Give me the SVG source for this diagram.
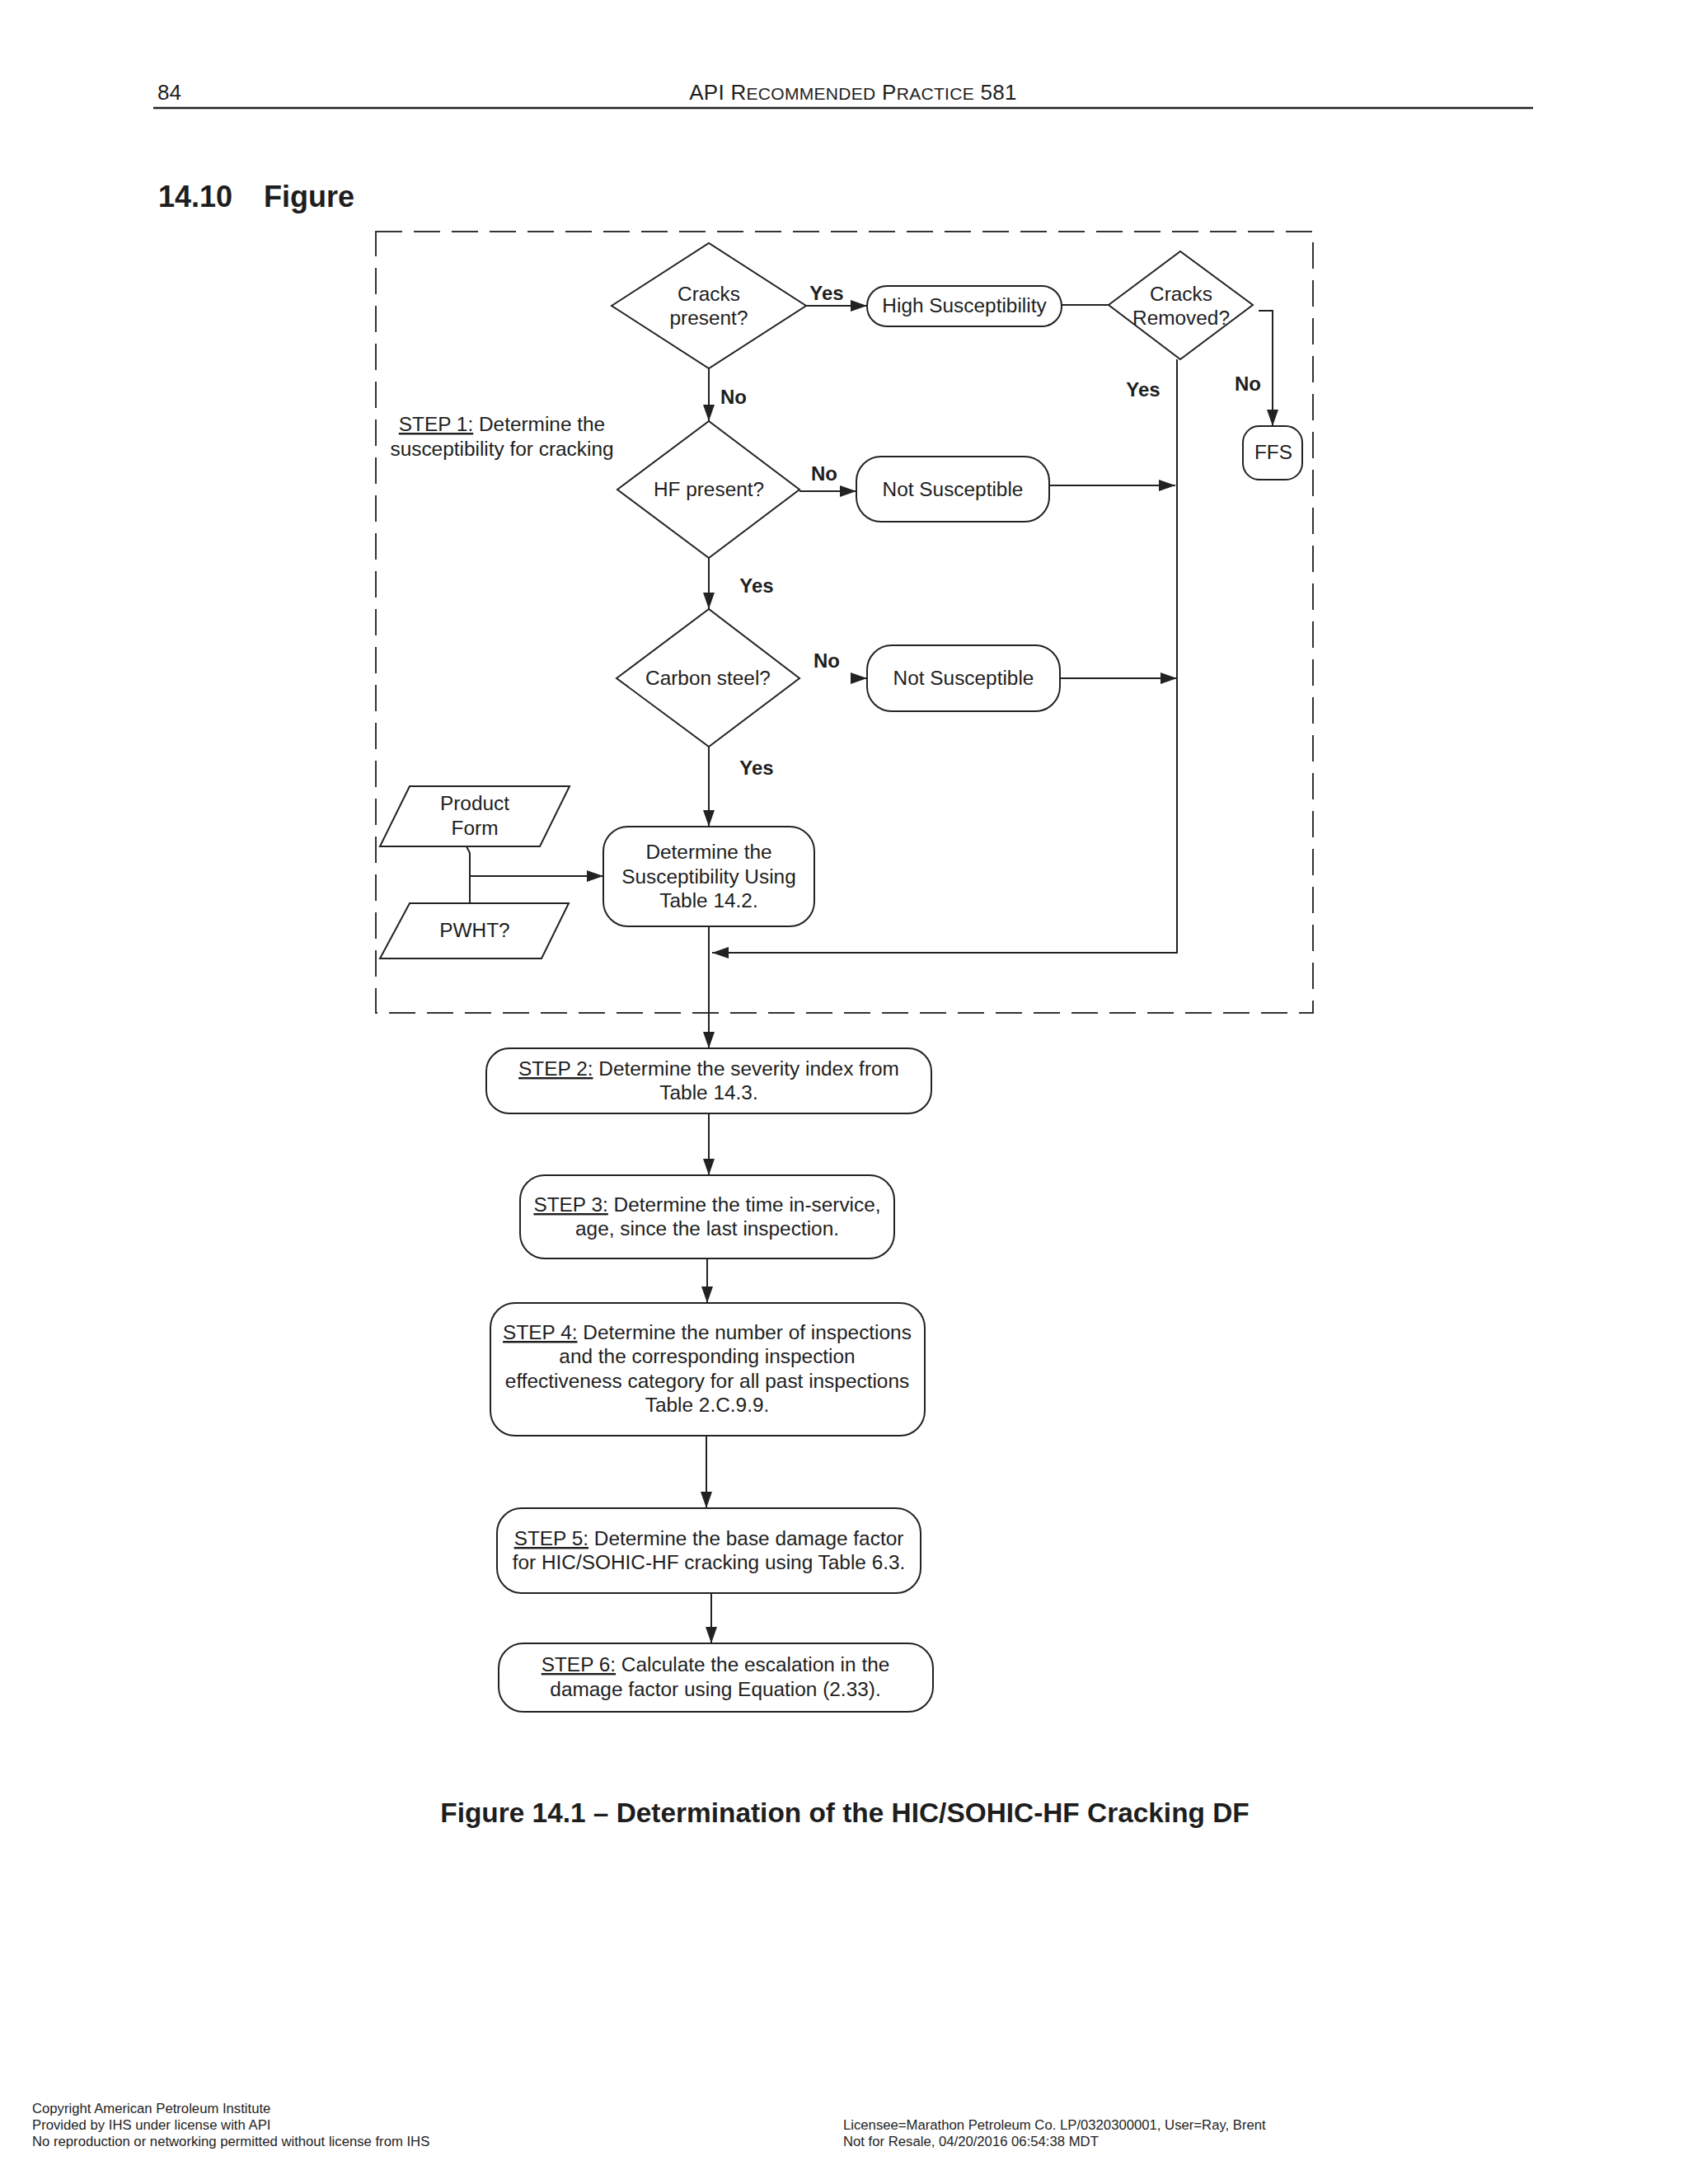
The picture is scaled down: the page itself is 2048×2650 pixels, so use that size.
<svg xmlns="http://www.w3.org/2000/svg" width="2048" height="2650" viewBox="0 0 2048 2650">
<style>
.t{font-family:"Liberation Sans",Arial,sans-serif;font-size:24.4px;fill:#1e1e1e}
.c{text-anchor:middle}
.b{font-weight:bold;font-size:24px}
.u{text-decoration:underline}
.shape{fill:#fff;stroke:#222;stroke-width:2}
.conn{fill:none;stroke:#222;stroke-width:2}
.hdr{font-family:"Liberation Sans",Arial,sans-serif;fill:#1e1e1e}
.foot{font-family:"Liberation Sans",Arial,sans-serif;font-size:16.7px;fill:#1e1e1e}
</style>
<defs>
<marker id="arr" viewBox="0 0 20 14" refX="20" refY="7" markerWidth="20" markerHeight="14" markerUnits="userSpaceOnUse" orient="auto">
<path d="M0,0 L20,7 L0,14 z" fill="#222"/>
</marker>
</defs>
<rect width="2048" height="2650" fill="#fff"/>

<g id="header">
<text class="hdr" x="191" y="121" font-size="26">84</text>
<text class="hdr" x="1035" y="121" font-size="26" text-anchor="middle" letter-spacing="0.3">API R<tspan font-size="21">ECOMMENDED</tspan> P<tspan font-size="21">RACTICE</tspan> 581</text>
<line x1="186" y1="131" x2="1860" y2="131" stroke="#222" stroke-width="2.5"/>
<text class="hdr" x="192" y="251" font-size="36" font-weight="bold">14.10</text>
<text class="hdr" x="320" y="251" font-size="36" font-weight="bold">Figure</text>
</g>

<g id="step1-boundary">
<rect x="456" y="281" width="1137" height="948" fill="none" stroke="#333" stroke-width="2" stroke-dasharray="32 14"/>
<text class="t c" x="609" y="523"><tspan class="u">STEP 1:</tspan> Determine the</text>
<text class="t c" x="609" y="553">susceptibility for cracking</text>
</g>

<g id="connectors">
<path class="conn" d="M978,371 H1052" marker-end="url(#arr)"/>
<path class="conn" d="M1288,370 H1345"/>
<path class="conn" d="M1527,377 H1544 V517" marker-end="url(#arr)"/>
<path class="conn" d="M1428,436 V1156 H864" marker-end="url(#arr)"/>
<path class="conn" d="M860,447 V511" marker-end="url(#arr)"/>
<path class="conn" d="M970,596 H1039" marker-end="url(#arr)"/>
<path class="conn" d="M1274,589 H1426" marker-end="url(#arr)"/>
<path class="conn" d="M860,677 V739" marker-end="url(#arr)"/>
<path class="conn" d="M1034,823 H1052" marker-end="url(#arr)"/>
<path class="conn" d="M1286,823 H1428" marker-end="url(#arr)"/>
<path class="conn" d="M860,906 V1003" marker-end="url(#arr)"/>
<path class="conn" d="M566,1027 L570,1035 V1096"/>
<path class="conn" d="M570,1063 H732" marker-end="url(#arr)"/>
<path class="conn" d="M860,1124 V1272" marker-end="url(#arr)"/>
<path class="conn" d="M860,1351 V1426" marker-end="url(#arr)"/>
<path class="conn" d="M858,1527 V1581" marker-end="url(#arr)"/>
<path class="conn" d="M857,1742 V1830" marker-end="url(#arr)"/>
<path class="conn" d="M863,1933 V1994" marker-end="url(#arr)"/>
<text class="t c b" x="1003" y="364">Yes</text>
<text class="t c b" x="890" y="490">No</text>
<text class="t c b" x="1000" y="583">No</text>
<text class="t c b" x="1387" y="481">Yes</text>
<text class="t c b" x="1514" y="474">No</text>
<text class="t c b" x="918" y="719">Yes</text>
<text class="t c b" x="1003" y="810">No</text>
<text class="t c b" x="918" y="940">Yes</text>
</g>

<g id="cracks-present">
<polygon class="shape" points="742,371 860,295 978,371 860,447"/>
<text class="t c" x="860" y="365">Cracks</text>
<text class="t c" x="860" y="394">present?</text>
</g>

<g id="high-susceptibility">
<rect class="shape" x="1052" y="347" width="236" height="49" rx="24"/>
<text class="t c" x="1170" y="379">High Susceptibility</text>
</g>

<g id="cracks-removed">
<polygon class="shape" points="1345,370 1432,305 1520,370 1432,436"/>
<text class="t c" x="1433" y="365">Cracks</text>
<text class="t c" x="1433" y="394">Removed?</text>
</g>

<g id="ffs">
<rect class="shape" x="1508" y="517" width="72" height="65" rx="20"/>
<text class="t c" x="1545" y="557">FFS</text>
</g>

<g id="hf-present">
<polygon class="shape" points="749,594 860,511 970,594 860,677"/>
<text class="t c" x="860" y="602">HF present?</text>
</g>

<g id="not-susceptible-1">
<rect class="shape" x="1039" y="554" width="234" height="79" rx="30"/>
<text class="t c" x="1156" y="602">Not Susceptible</text>
</g>

<g id="carbon-steel">
<polygon class="shape" points="748,823 860,739 970,823 860,906"/>
<text class="t c" x="859" y="831">Carbon steel?</text>
</g>

<g id="not-susceptible-2">
<rect class="shape" x="1052" y="783" width="234" height="80" rx="30"/>
<text class="t c" x="1169" y="831">Not Susceptible</text>
</g>

<g id="product-form">
<polygon class="shape" points="497,954 691,954 655,1027 461,1027"/>
<text class="t c" x="576" y="983">Product</text>
<text class="t c" x="576" y="1013">Form</text>
</g>

<g id="pwht">
<polygon class="shape" points="497,1096 690,1096 657,1163 461,1163"/>
<text class="t c" x="576" y="1137">PWHT?</text>
</g>

<g id="determine-susceptibility">
<rect class="shape" x="732" y="1003" width="256" height="121" rx="30"/>
<text class="t c" x="860" y="1042">Determine the</text>
<text class="t c" x="860" y="1072">Susceptibility Using</text>
<text class="t c" x="860" y="1101">Table 14.2.</text>
</g>

<g id="step2">
<rect class="shape" x="590" y="1272" width="540" height="79" rx="28"/>
<text class="t c" x="860" y="1305"><tspan class="u">STEP 2:</tspan> Determine the severity index from</text>
<text class="t c" x="860" y="1334">Table 14.3.</text>
</g>

<g id="step3">
<rect class="shape" x="631" y="1426" width="454" height="101" rx="30"/>
<text class="t c" x="858" y="1470"><tspan class="u">STEP 3:</tspan> Determine the time in-service,</text>
<text class="t c" x="858" y="1499">age, since the last inspection.</text>
</g>

<g id="step4">
<rect class="shape" x="595" y="1581" width="527" height="161" rx="30"/>
<text class="t c" x="858" y="1625"><tspan class="u">STEP 4:</tspan> Determine the number of inspections</text>
<text class="t c" x="858" y="1654">and the corresponding inspection</text>
<text class="t c" x="858" y="1684">effectiveness category for all past inspections</text>
<text class="t c" x="858" y="1713">Table 2.C.9.9.</text>
</g>

<g id="step5">
<rect class="shape" x="603" y="1830" width="514" height="103" rx="30"/>
<text class="t c" x="860" y="1875"><tspan class="u">STEP 5:</tspan> Determine the base damage factor</text>
<text class="t c" x="860" y="1904">for HIC/SOHIC-HF cracking using Table 6.3.</text>
</g>

<g id="step6">
<rect class="shape" x="605" y="1994" width="527" height="83" rx="30"/>
<text class="t c" x="868" y="2028"><tspan class="u">STEP 6:</tspan> Calculate the escalation in the</text>
<text class="t c" x="868" y="2058">damage factor using Equation (2.33).</text>
</g>

<g id="caption">
<text class="hdr" x="1025" y="2211" font-size="33.4" font-weight="bold" text-anchor="middle">Figure 14.1 – Determination of the HIC/SOHIC-HF Cracking DF</text>
</g>

<g id="footer">
<text class="foot" x="39" y="2564">Copyright American Petroleum Institute</text>
<text class="foot" x="39" y="2584">Provided by IHS under license with API</text>
<text class="foot" x="39" y="2604">No reproduction or networking permitted without license from IHS</text>
<text class="foot" x="1023" y="2584">Licensee=Marathon Petroleum Co. LP/0320300001, User=Ray, Brent</text>
<text class="foot" x="1023" y="2604">Not for Resale, 04/20/2016 06:54:38 MDT</text>
</g>
</svg>
